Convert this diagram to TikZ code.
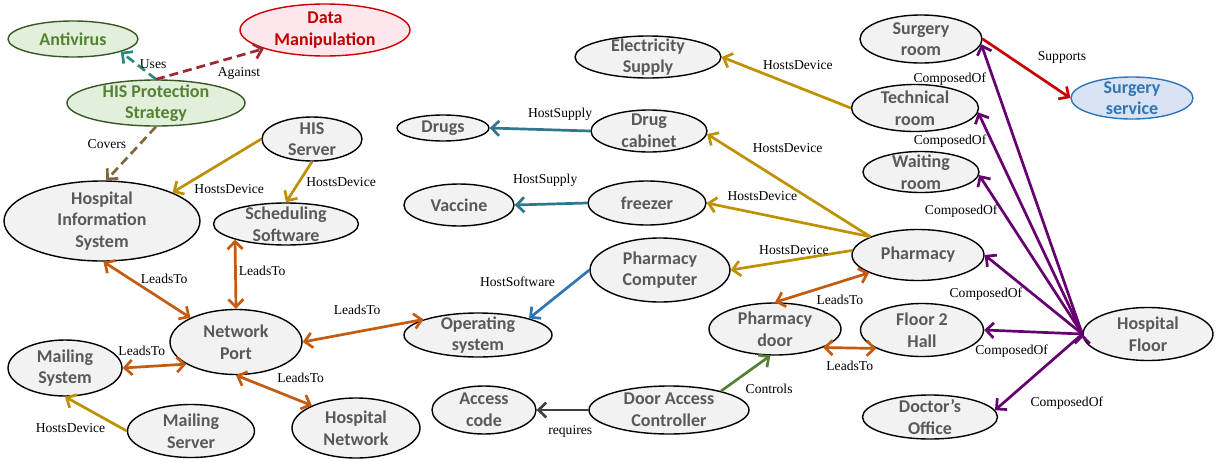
\documentclass[tikz,border=0pt]{standalone}
\usepackage{fontspec}
\setmainfont{Liberation Serif}
\setsansfont{Carlito}
\usetikzlibrary{arrows.meta,shapes.geometric}
\definecolor{boxgray}{RGB}{242,242,242}
\definecolor{txtgray}{RGB}{89,89,89}
\definecolor{strategyfill}{RGB}{226,239,218}
\definecolor{strategyline}{RGB}{56,87,35}
\definecolor{strategytext}{RGB}{84,130,53}
\definecolor{threatfill}{RGB}{253,231,236}
\definecolor{threatline}{RGB}{204,0,0}
\definecolor{threattext}{RGB}{192,0,0}
\definecolor{servfill}{RGB}{218,227,243}
\definecolor{servline}{RGB}{46,117,182}
\definecolor{hostgold}{RGB}{191,144,0}
\definecolor{leadorange}{RGB}{197,90,17}
\definecolor{composepurple}{RGB}{102,0,112}
\definecolor{supplyteal}{RGB}{49,118,140}
\definecolor{softblue}{RGB}{46,117,182}
\definecolor{usesteal}{RGB}{42,139,122}
\definecolor{againstred}{RGB}{160,40,50}
\definecolor{coversbrown}{RGB}{125,105,60}
\definecolor{reqgray}{RGB}{64,64,64}
\definecolor{ctrlgreen}{RGB}{84,130,53}
\definecolor{supportred}{RGB}{200,0,0}
\begin{document}
\begin{tikzpicture}[x=0.5pt,y=-0.5pt,
		thing/.style={ellipse,draw=black,line width=0.7pt,fill=boxgray,text=txtgray,
			font=\sffamily\bfseries\fontsize{9}{10.8}\selectfont,align=center,
			inner xsep=0pt,inner ysep=-12pt},
		goodthing/.style={thing,draw=strategyline,fill=strategyfill,text=strategytext},
		badthing/.style={thing,draw=threatline,fill=threatfill,text=threattext},
		servthing/.style={thing,draw=servline,fill=servfill,text=servline},
		sz/.style 2 args={minimum width=#1*0.5pt,minimum height=#2*0.5pt},
		lbl/.style={font=\rmfamily\fontsize{6.8}{8}\selectfont,text=black,inner sep=1pt},
		rel/.style={line width=1.35pt,-{Straight Barb[length=3.8pt,width=7.5pt]}},
		both/.style={line width=1.35pt,{Straight Barb[length=3.8pt,width=7.5pt]}-{Straight Barb[length=3.8pt,width=7.5pt]}},
		dashrel/.style={rel,dash pattern=on 4.5pt off 2.5pt}]
	\useasboundingbox (0,0) rectangle (1216,461);

	% protection strategy
	\node[goodthing,sz={130}{36}] (antivirus) at (73,39) {Antivirus};
	\node[badthing,sz={170}{52}] (datamanip) at (325,30) {Data\\Manipulation};
	\node[goodthing,sz={178}{46}] (protect) at (156,103) {HIS Protection\\Strategy};

	% information system side
	\node[thing,sz={100}{44}] (hisserver) at (312,139) {HIS\\Server};
	\node[thing,sz={196}{80}] (his) at (102,221) {Hospital\\Information\\System};
	\node[thing,sz={145}{42}] (sched) at (286,224) {Scheduling\\Software};
	\node[thing,sz={132}{65}] (netport) at (236,342) {Network\\Port};
	\node[thing,sz={114}{56}] (mailsys) at (65,368) {Mailing\\System};
	\node[thing,sz={127}{53}] (mailserver) at (191,431) {Mailing\\Server};
	\node[thing,sz={128}{60}] (hospnet) at (356,428) {Hospital\\Network};
	\node[thing,sz={148}{44}] (opsys) at (478,335) {Operating\\system};

	% pharmacy side
	\node[thing,sz={146}{42}] (power) at (648,57) {Electricity\\Supply};
	\node[thing,sz={92}{26}] (drugs) at (443,128) {Drugs};
	\node[thing,sz={116}{42}] (cabinet) at (649,131) {Drug\\cabinet};
	\node[thing,sz={110}{42}] (vaccine) at (459,205) {Vaccine};
	\node[thing,sz={118}{44}] (freezer) at (647,203) {freezer};
	\node[thing,sz={140}{64}] (pcomputer) at (660,270) {Pharmacy\\Computer};
	\node[thing,sz={132}{52}] (pdoor) at (775,329) {Pharmacy\\door};
	\node[thing,sz={104}{48}] (acode) at (484,410) {Access\\code};
	\node[thing,sz={160}{48}] (doorctrl) at (669,410) {Door Access\\Controller};

	% the floor and its rooms
	\node[thing,sz={122}{48}] (surgroom) at (921,39) {Surgery\\room};
	\node[thing,sz={127}{47}] (techroom) at (915,108) {Technical\\room};
	\node[thing,sz={116}{41}] (waitroom) at (921,172) {Waiting\\room};
	\node[servthing,sz={122}{42}] (surgserv) at (1132,98) {Surgery\\service};
	\node[thing,sz={132}{51}] (pharmacy) at (918,255) {Pharmacy};
	\node[thing,sz={123}{53}] (hall) at (922,330) {Floor 2\\Hall};
	\node[thing,sz={130}{53}] (floor) at (1148,334) {Hospital\\Floor};
	\node[thing,sz={135}{44}] (office) at (930,417) {Doctor’s\\Office};

	\draw[dashrel,usesteal] (protect.north) -- node[lbl,pos=0.61,right=1pt,yshift=-1pt] {Uses} (antivirus.-15);
	\draw[dashrel,againstred] (protect.north) -- node[lbl,pos=0.77,below=4pt] {Against} (datamanip.197);
	\draw[dashrel,coversbrown] (protect.south) -- node[lbl,pos=0.33,left=5pt] {Covers} (his.84);

	\draw[rel,hostgold] (hisserver.west) -- node[lbl,pos=0.79,anchor=north west] {HostsDevice} (his.22);
	\draw[rel,hostgold] (hisserver.south) -- node[lbl,pos=0.5,right=2pt] {HostsDevice} (sched.north);
	\draw[rel,hostgold] (mailserver.west) -- node[lbl,pos=0.1,left=6pt] {HostsDevice} (mailsys.south);

	\draw[both,leadorange] (his.-88) -- node[lbl,pos=0.3,right=4pt] {LeadsTo} (netport.152);
	\draw[both,leadorange] (sched.197) -- node[lbl,pos=0.45,right=0pt] {LeadsTo} (netport.north);
	\draw[both,leadorange] (netport.east) -- node[lbl,pos=0.45,above=7pt] {LeadsTo} (opsys.164);
	\draw[both,leadorange] (mailsys.east) -- node[lbl,pos=0.3,above=4pt] {LeadsTo} (netport.204);
	\draw[both,leadorange] (netport.south) -- node[lbl,pos=0.5,anchor=south west,yshift=2pt] {LeadsTo} (hospnet.153);

	\draw[rel,softblue] (pcomputer.west) -- node[lbl,pos=0.25,left=8pt] {HostSoftware} (opsys.18);
	\draw[rel,supplyteal] (cabinet.west) -- node[lbl,pos=0.3,above=3pt] {HostSupply} (drugs.east);
	\draw[rel,supplyteal] (freezer.west) -- node[lbl,pos=0.58,above=7pt] {HostSupply} (vaccine.east);

	\draw[rel,hostgold] (techroom.west) -- node[lbl,pos=0.41,above=7pt] {HostsDevice} (power.east);
	\draw[rel,hostgold] (pharmacy.159) -- node[lbl,pos=0.74,anchor=south west,yshift=2.5pt] {HostsDevice} (cabinet.-3);
	\draw[rel,hostgold] (pharmacy.159) -- node[lbl,pos=0.66,above=5pt] {HostsDevice} (freezer.east);
	\draw[rel,hostgold] (pharmacy.176) -- node[lbl,pos=0.48,above=1pt] {HostsDevice} (pcomputer.east);

	\draw[both,leadorange] (pharmacy.200) -- node[lbl,pos=0.31,below=5pt] {LeadsTo} (pdoor.north);
	\draw[both,leadorange] (pdoor.-21) -- node[lbl,pos=0.5,below=5pt] {LeadsTo} (hall.202);
	\draw[rel,ctrlgreen] (doorctrl.20) -- node[lbl,pos=0.15,right=7pt,yshift=-1.5pt] {Controls} (pdoor.260);
	\draw[rel,reqgray] (doorctrl.west) -- node[lbl,pos=0.35,below=6pt] {requires} (acode.east);

	\draw[rel,supportred] (surgroom.east) -- node[lbl,pos=0.5,anchor=south west,xshift=4pt,yshift=1pt] {Supports} (surgserv.west);
	\draw[rel,composepurple] (floor.west) %all rooms hang off the same point
		edge node[lbl,pos=0.88,left=2pt] {ComposedOf} (surgroom.-5)
		edge node[lbl,pos=0.87,left=1pt] {ComposedOf} (techroom.-4)
		edge node[lbl,pos=0.77,left=1pt] {ComposedOf} (waitroom.-3)
		edge node[lbl,pos=0.5,left=4pt] {ComposedOf} (pharmacy.east)
		edge node[lbl,pos=0.72,below=5pt] {ComposedOf} (hall.east)
		edge node[lbl,pos=0.7,below right=3pt] {ComposedOf} (office.6);
\end{tikzpicture}
\end{document}
